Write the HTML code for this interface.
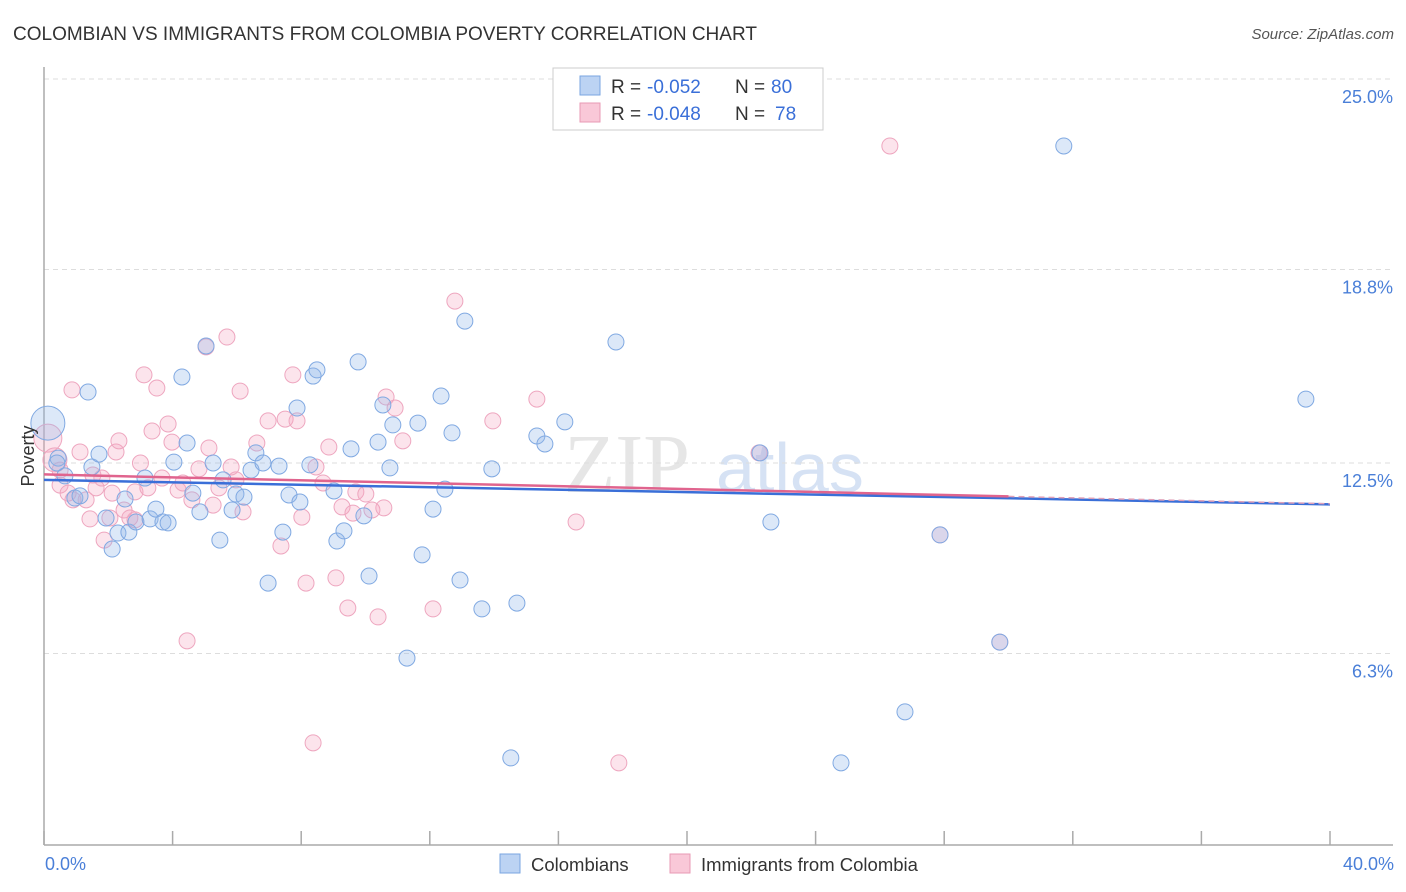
<!DOCTYPE html>
<html><head><meta charset="utf-8"><style>
body{margin:0;background:#fff;font-family:"Liberation Sans",sans-serif;}
svg{display:block}
</style></head><body>
<svg id="chart" width="1406" height="892" xmlns="http://www.w3.org/2000/svg">
<text x="13" y="40" font-size="19" fill="#333">COLOMBIAN VS IMMIGRANTS FROM COLOMBIA POVERTY CORRELATION CHART</text>
<text x="1394" y="39" font-size="15" font-style="italic" fill="#555" text-anchor="end">Source: ZipAtlas.com</text>
<text x="690" y="492" font-size="84" fill="#e6e6e6" text-anchor="end" font-family="Liberation Serif">ZIP</text>
<text x="716" y="492" font-size="70" fill="#d6e2f4">atlas</text>
<g id="grid"></g>
<g id="axes"></g>
<g id="pts"></g>
<g id="lines"></g>
<text transform="translate(34,456) rotate(-90)" font-size="18" fill="#333" text-anchor="middle">Poverty</text>
<text x="45" y="870" font-size="18" fill="#4a7fd8">0.0%</text>
<text x="1394" y="870" font-size="18" fill="#4a7fd8" text-anchor="end">40.0%</text>
<g font-size="19">
<rect x="553" y="68" width="270" height="62" fill="#fff" stroke="#ccc"/>
<rect x="580" y="76" width="20" height="19" fill="#bcd3f3" stroke="#7aa6e0"/>
<rect x="580" y="103" width="20" height="19" fill="#f9c8d8" stroke="#e89ab4"/>
<text x="611" y="93" fill="#333">R =</text><text x="647" y="93" fill="#3a6fd8">-0.052</text>
<text x="735" y="93" fill="#333">N =</text><text x="771" y="93" fill="#3a6fd8">80</text>
<text x="611" y="120" fill="#333">R =</text><text x="647" y="120" fill="#3a6fd8">-0.048</text>
<text x="735" y="120" fill="#333">N =</text><text x="775" y="120" fill="#3a6fd8">78</text>
</g>
<g>
<rect x="500" y="854" width="20" height="19" fill="#bcd3f3" stroke="#7aa6e0"/>
<text x="531" y="871" font-size="18.5" fill="#333">Colombians</text>
<rect x="670" y="854" width="20" height="19" fill="#f9c8d8" stroke="#e89ab4"/>
<text x="701" y="871" font-size="18.5" fill="#333">Immigrants from Colombia</text>
</g>
</svg>
<script>
const yTicks=[25.0,18.8,12.5,6.3];
const yTickLabels=["25.0%","18.8%","12.5%","6.3%"];
const xTicks=[0,4,8,12,16,20,24,28,32,36,40];
const blueX=[0.12,0.44,0.65,0.96,1.12,1.37,1.49,1.71,1.93,2.12,2.30,2.52,2.64,2.86,3.14,3.30,3.48,3.70,3.86,4.04,4.29,4.45,4.63,4.85,5.04,5.26,5.47,5.57,5.85,5.97,6.22,6.44,6.59,6.81,6.97,7.31,7.43,7.62,7.87,7.96,8.27,8.37,8.49,9.02,9.11,9.33,9.55,9.77,9.95,10.11,10.39,10.54,10.76,10.85,11.29,11.63,11.76,12.10,12.35,12.47,12.69,12.94,13.09,13.62,13.93,14.52,14.71,15.33,15.58,16.20,17.79,22.27,22.61,24.79,26.78,27.87,29.73,31.72,39.25,0.40];
const blueY=[13.8,12.66,12.08,11.36,11.43,14.81,12.37,12.79,10.71,9.70,10.22,11.33,10.25,10.58,12.01,10.68,11.0,10.58,10.55,12.53,15.30,13.15,11.52,10.91,16.31,12.50,9.99,11.95,10.97,11.49,11.39,12.27,12.83,12.50,8.59,12.40,10.25,11.46,14.29,11.23,12.44,15.33,15.53,11.59,9.96,10.29,12.96,15.79,10.78,8.82,13.18,14.39,12.34,13.74,6.15,13.80,9.51,11.0,14.68,11.65,13.48,8.69,17.12,7.75,12.31,2.90,7.94,13.38,13.12,13.84,16.44,12.83,10.58,2.74,4.40,10.16,6.67,22.82,14.58,12.5];
const pinkX=[0.12,0.34,0.50,0.75,0.87,1.12,1.31,1.43,1.62,1.80,1.87,2.05,2.24,2.33,2.49,2.67,2.83,3.11,3.23,3.36,3.51,3.67,3.86,3.98,4.17,4.32,4.45,4.60,4.82,5.13,5.26,5.44,5.69,5.82,5.97,6.10,6.19,6.62,6.97,7.37,7.50,7.74,7.87,8.02,8.15,8.37,8.46,8.68,8.86,9.08,9.27,9.45,9.61,9.70,10.01,10.20,10.39,10.57,10.64,10.92,11.16,12.10,12.78,13.96,15.33,16.55,17.88,22.24,26.31,27.87,29.73,5.04,2.12,2.83,1.52,0.50,0.9,3.0];
const pinkY=[13.31,12.60,11.78,11.52,14.88,12.86,11.30,10.68,11.69,12.01,9.99,10.71,12.86,13.22,10.97,10.71,11.56,15.37,11.69,13.54,14.94,12.01,13.77,13.18,11.62,11.85,6.71,11.30,12.31,12.99,11.13,11.69,16.60,12.37,11.95,14.84,10.91,13.15,13.87,9.80,13.93,15.37,13.87,10.74,8.59,3.39,12.37,11.85,13.02,8.76,11.07,7.78,10.87,11.56,11.49,10.97,7.49,11.04,14.65,14.29,13.22,7.75,17.77,13.87,14.58,10.58,2.74,12.83,22.82,10.16,6.67,16.28,11.52,10.65,12.11,12.27,11.3,12.5];
const blueSize=[17].concat(Array(79).fill(8));
const pinkSize=[14,12].concat(Array(76).fill(8));
const X0=44,X1=1330,Y25=79,PX=192/6.25;
const sx=v=>X0+(X1-X0)*v/40;
const sy=v=>Y25+(25-v)*PX;
const NS="http://www.w3.org/2000/svg";
function mk(t,a,p){const e=document.createElementNS(NS,t);for(const k in a)e.setAttribute(k,a[k]);p.appendChild(e);return e;}
const grid=document.getElementById('grid');
yTicks.forEach((t,i)=>{
 const l=mk('line',{x1:44,x2:1393,y1:sy(t),y2:sy(t),stroke:'#ddd','stroke-dasharray':'5,4'},grid);
 
 
 const tx=mk('text',{x:1393,y:sy(t)+24,'font-size':18,fill:'#4a7fd8','text-anchor':'end'},grid);
 tx.textContent=yTickLabels[i];
 
 
});
const axes=document.getElementById('axes');
const ya=mk('line',{x1:44,x2:44,y1:67,y2:845,stroke:'#aaa','stroke-width':1.5},axes);


const xa=mk('line',{x1:44,x2:1393,y1:845,y2:845,stroke:'#aaa','stroke-width':1.5},axes);


xTicks.forEach(t=>{
 const l=mk('line',{x1:sx(t),x2:sx(t),y1:831,y2:845,stroke:'#aaa','stroke-width':1.5},axes);
 
 
});
const pts=document.getElementById('pts');
pinkX.forEach((x,i)=>{
 const c=mk('circle',{cx:sx(x),cy:sy(pinkY[i]),r:pinkSize[i],fill:'rgba(244,166,192,0.3)',stroke:'#eea6bf','stroke-width':1},pts);
 
 
});
blueX.forEach((x,i)=>{
 const c=mk('circle',{cx:sx(x),cy:sy(blueY[i]),r:blueSize[i],fill:'rgba(150,185,235,0.33)',stroke:'#80a9e2','stroke-width':1},pts);
 
 
});
function fit(xs,ys){const n=xs.length;let mx=0,my=0;xs.forEach((x,i)=>{mx+=x;my+=ys[i]});mx/=n;my/=n;let a=0,b=0;xs.forEach((x,i)=>{a+=(x-mx)*(ys[i]-my);b+=(x-mx)**2});const s=a/b;return [my-s*mx,s];}
const lines=document.getElementById('lines');
const [bi,bs]=fit(blueX,blueY);
const bl=mk('line',{x1:sx(0),y1:sy(bi),x2:sx(40),y2:sy(bi+bs*40),stroke:'#3a6fd8','stroke-width':2.5},lines);


const [pi,ps]=fit(pinkX,pinkY);
const pl=mk('line',{x1:sx(0),y1:sy(pi),x2:sx(30),y2:sy(pi+ps*30),stroke:'#e0648e','stroke-width':2.5},lines);


const pd=mk('line',{x1:sx(30),y1:sy(pi+ps*30),x2:sx(40),y2:sy(pi+ps*40),stroke:'#e0a0b8','stroke-width':1.5,'stroke-dasharray':'6,4'},lines);


</script>
</body></html>
